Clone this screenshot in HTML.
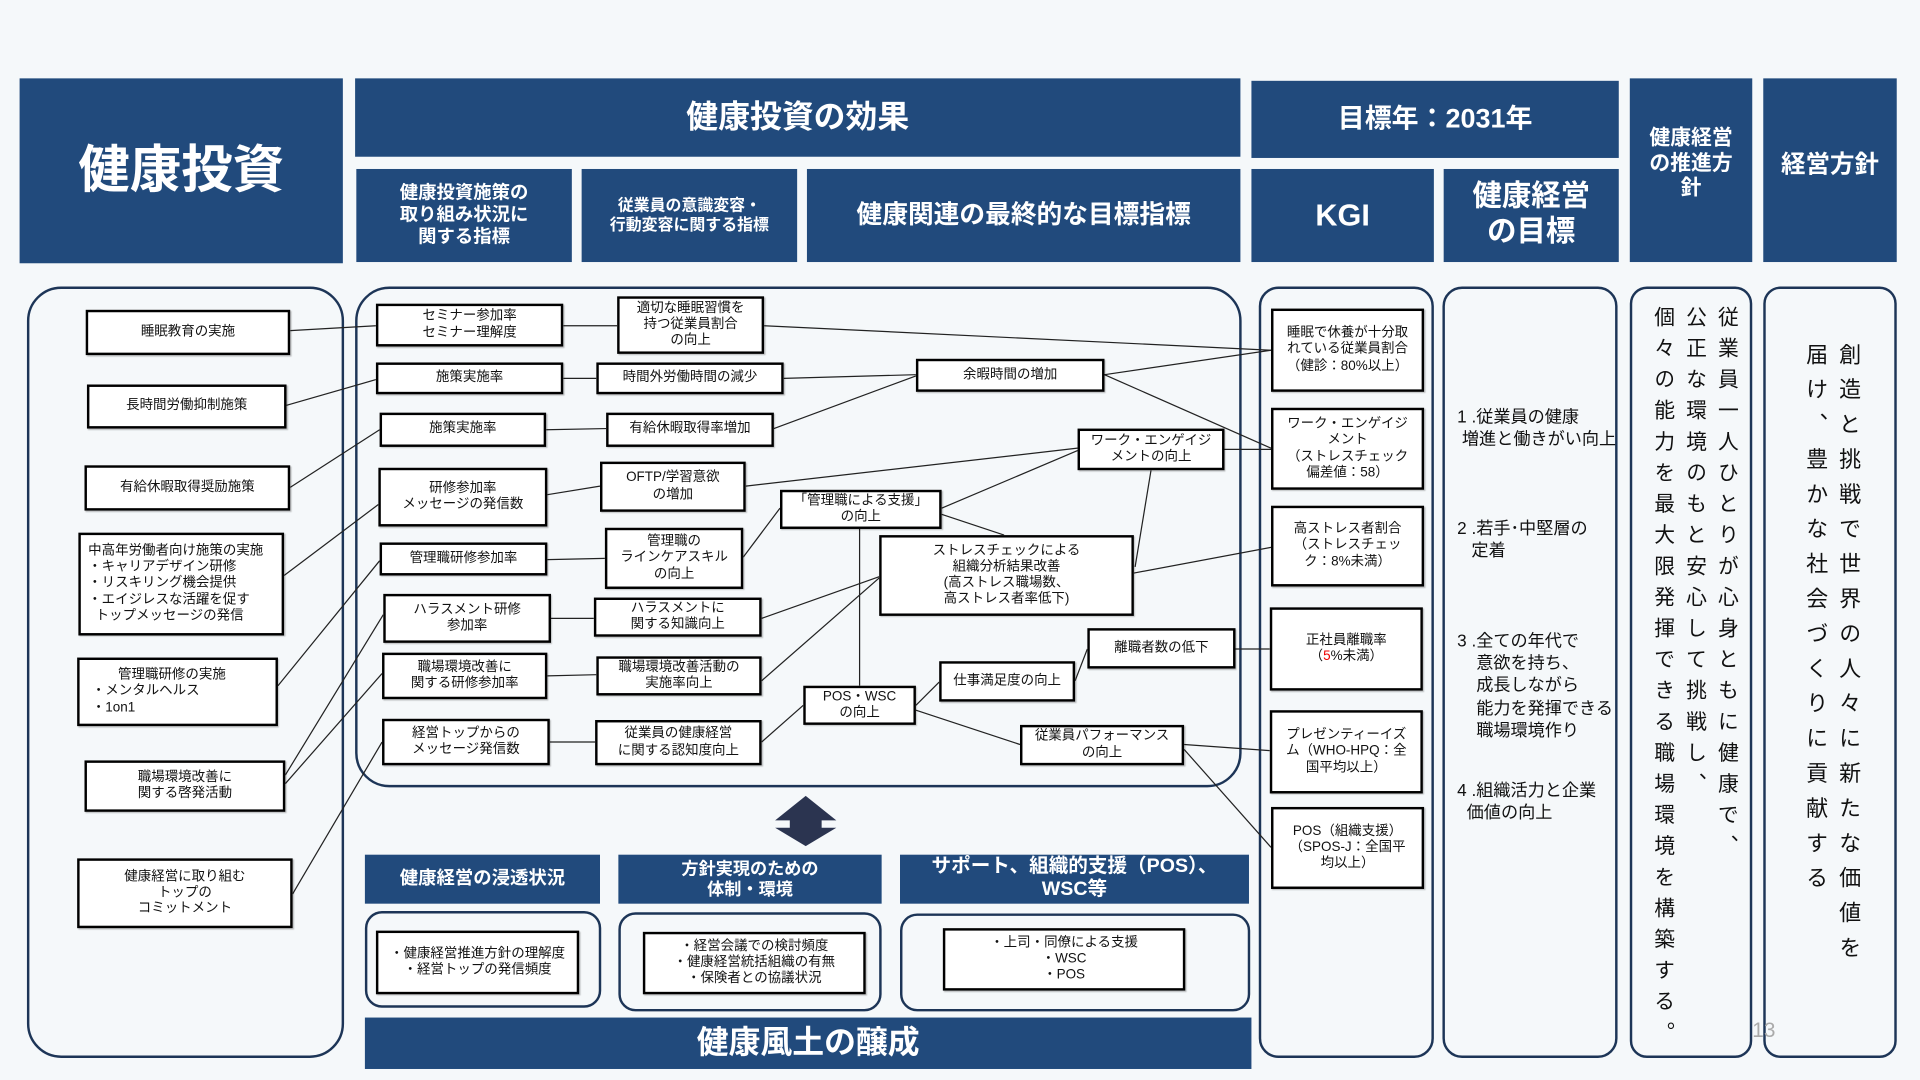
<!DOCTYPE html>
<html><head><meta charset="utf-8">
<style>
html,body{margin:0;padding:0;background:#f5f8fa;}
body{width:1920px;height:1080px;overflow:hidden;}
#s{position:relative;width:1568px;height:882px;transform:scale(1.22449);transform-origin:0 0;font-family:"Liberation Sans","Noto Sans CJK JP",sans-serif;}
.h{position:absolute;background:#214a7c;color:#fff;font-weight:bold;display:flex;align-items:center;justify-content:center;text-align:center;line-height:1.2;box-sizing:border-box;}
.p{position:absolute;border:2.5px solid #1d3557;border-radius:28px;box-sizing:border-box;}
.b{position:absolute;background:#fff;border:2px solid #000;box-sizing:border-box;display:flex;align-items:center;justify-content:center;text-align:center;font-size:11px;line-height:1.2;color:#111;box-shadow:1px 1px 1px rgba(0,0,0,.25);}
.l{justify-content:flex-start;text-align:left;padding-left:8px;}
.g{position:absolute;font-size:14px;line-height:1.3;color:#111;}
.v{position:absolute;writing-mode:vertical-rl;color:#111;}
svg{position:absolute;left:0;top:0;}
</style></head><body>
<div id="s">
<div class="h" style="left:16px;top:64px;width:264px;height:151px;font-size:42px;">健康投資</div>
<div class="h" style="left:290px;top:64px;width:723px;height:64px;font-size:26px;">健康投資の効果</div>
<div class="h" style="left:291px;top:138px;width:176px;height:76px;font-size:15px;">健康投資施策の<br>取り組み状況に<br>関する指標</div>
<div class="h" style="left:475px;top:138px;width:176px;height:76px;font-size:13px;">従業員の意識変容・<br>行動変容に関する指標</div>
<div class="h" style="left:659px;top:138px;width:354px;height:76px;font-size:21px;">健康関連の最終的な目標指標</div>
<div class="h" style="left:1022px;top:66px;width:300px;height:63px;font-size:22px;">目標年：2031年</div>
<div class="h" style="left:1022px;top:138px;width:149px;height:76px;font-size:25px;">KGI</div>
<div class="h" style="left:1179px;top:138px;width:143px;height:76px;font-size:24px;">健康経営<br>の目標</div>
<div class="h" style="left:1331px;top:64px;width:100px;height:150px;font-size:17px;padding-bottom:10px;">健康経営<br>の推進方<br>針</div>
<div class="h" style="left:1440px;top:64px;width:109px;height:150px;font-size:20px;padding-bottom:8px;">経営方針</div>

<div class="p" style="left:22px;top:234px;width:259px;height:630px;"></div>
<div class="p" style="left:290px;top:234px;width:724px;height:409px;"></div>
<div class="p" style="left:1028px;top:234px;width:143px;height:630px;border-radius:16px;"></div>
<div class="p" style="left:1178px;top:234px;width:143px;height:630px;border-radius:16px;"></div>
<div class="p" style="left:1331px;top:234px;width:100px;height:630px;border-radius:14px;"></div>
<div class="p" style="left:1440px;top:234px;width:109px;height:630px;border-radius:14px;"></div>

<svg width="1568" height="882" viewBox="0 0 1568 882">
<g stroke="#222" stroke-width="1" fill="none">
<line x1="237" y1="270" x2="307" y2="266"/>
<line x1="234" y1="331" x2="307" y2="310"/>
<line x1="237" y1="398" x2="310" y2="351"/>
<line x1="232" y1="470" x2="309" y2="412"/>
<line x1="227" y1="560" x2="310" y2="458"/>
<line x1="233" y1="633" x2="313" y2="502"/>
<line x1="233" y1="640" x2="312" y2="550"/>
<line x1="239" y1="730" x2="312" y2="606"/>
<line x1="460" y1="266" x2="504" y2="266"/>
<line x1="460" y1="309" x2="487" y2="309"/>
<line x1="446" y1="351" x2="495" y2="350"/>
<line x1="447" y1="404" x2="490" y2="397"/>
<line x1="447" y1="457" x2="494" y2="456"/>
<line x1="450" y1="505" x2="485" y2="505"/>
<line x1="447" y1="552" x2="487" y2="551"/>
<line x1="449" y1="606" x2="486" y2="606"/>
<line x1="624" y1="266" x2="1038" y2="286"/>
<line x1="640" y1="309" x2="748" y2="306"/>
<line x1="632" y1="350" x2="748" y2="307"/>
<line x1="609" y1="397" x2="880" y2="366"/>
<line x1="607" y1="455" x2="637" y2="415"/>
<line x1="622" y1="505" x2="718" y2="471"/>
<line x1="622" y1="556" x2="718" y2="472"/>
<line x1="622" y1="606" x2="656" y2="576"/>
<line x1="769" y1="415" x2="880" y2="368"/>
<line x1="769" y1="420" x2="820" y2="437"/>
<line x1="702" y1="432" x2="702" y2="560"/>
<line x1="902" y1="306" x2="1038" y2="286"/>
<line x1="902" y1="306" x2="1038" y2="366"/>
<line x1="1000" y1="367" x2="1038" y2="367"/>
<line x1="940" y1="384" x2="927" y2="463"/>
<line x1="926" y1="468" x2="1038" y2="447"/>
<line x1="1009" y1="530" x2="1037" y2="530"/>
<line x1="878" y1="556" x2="888" y2="530"/>
<line x1="748" y1="576" x2="767" y2="557"/>
<line x1="748" y1="580" x2="833" y2="608"/>
<line x1="967" y1="608" x2="1037" y2="613"/>
<line x1="967" y1="612" x2="1038" y2="692"/>
</g>
<polygon points="658,650 683,670 671,670 671,676 683,676 658,691 633,676 645,676 645,670 633,670" fill="#2b3450"/>
</svg>

<div class="b" style="left:70px;top:253px;width:167px;height:37px;">睡眠教育の実施</div>
<div class="b" style="left:71px;top:314px;width:163px;height:36px;">長時間労働抑制施策</div>
<div class="b" style="left:69px;top:380px;width:168px;height:37px;">有給休暇取得奨励施策</div>
<div class="b l" style="left:64px;top:435px;width:168px;height:84px;padding-left:6px;"><div>中高年労働者向け施策の実施<br>・キャリアデザイン研修<br>・リスキリング機会提供<br>・エイジレスな活躍を促す<br>&nbsp;&nbsp;トップメッセージの発信</div></div>
<div class="b l" style="left:63px;top:537px;width:164px;height:56px;padding-left:10px;"><div>&nbsp;&nbsp;&nbsp;&nbsp;&nbsp;&nbsp;&nbsp;管理職研修の実施<br>・メンタルヘルス<br>・1on1</div></div>
<div class="b" style="left:69px;top:621px;width:164px;height:42px;">職場環境改善に<br>関する啓発活動</div>
<div class="b" style="left:63px;top:701px;width:176px;height:57px;">健康経営に取り組む<br>トップの<br>コミットメント</div>

<div class="b" style="left:307px;top:248px;width:153px;height:35px;">セミナー参加率<br>セミナー理解度</div>
<div class="b" style="left:307px;top:296px;width:153px;height:26px;">施策実施率</div>
<div class="b" style="left:310px;top:337px;width:136px;height:28px;">施策実施率</div>
<div class="b" style="left:309px;top:382px;width:138px;height:48px;">研修参加率<br>メッセージの発信数</div>
<div class="b" style="left:310px;top:443px;width:137px;height:27px;">管理職研修参加率</div>
<div class="b" style="left:313px;top:485px;width:137px;height:40px;">ハラスメント研修<br>参加率</div>
<div class="b" style="left:312px;top:533px;width:135px;height:38px;">職場環境改善に<br>関する研修参加率</div>
<div class="b" style="left:312px;top:587px;width:137px;height:38px;">経営トップからの<br>メッセージ発信数</div>

<div class="b" style="left:504px;top:242px;width:120px;height:47px;">適切な睡眠習慣を<br>持つ従業員割合<br>の向上</div>
<div class="b" style="left:487px;top:296px;width:153px;height:26px;">時間外労働時間の減少</div>
<div class="b" style="left:495px;top:337px;width:137px;height:28px;">有給休暇取得率増加</div>
<div class="b" style="left:490px;top:377px;width:119px;height:41px;">OFTP/学習意欲<br>の増加</div>
<div class="b" style="left:494px;top:431px;width:113px;height:50px;">管理職の<br>ラインケアスキル<br>の向上</div>
<div class="b" style="left:485px;top:488px;width:137px;height:32px;">ハラスメントに<br>関する知識向上</div>
<div class="b" style="left:487px;top:536px;width:135px;height:32px;">職場環境改善活動の<br>実施率向上</div>
<div class="b" style="left:486px;top:588px;width:136px;height:37px;">従業員の健康経営<br>に関する認知度向上</div>

<div class="b" style="left:748px;top:293px;width:154px;height:27px;">余暇時間の増加</div>
<div class="b" style="left:880px;top:350px;width:120px;height:34px;">ワーク・エンゲイジ<br>メントの向上</div>
<div class="b" style="left:637px;top:400px;width:132px;height:32px;">「管理職による支援」<br>の向上</div>
<div class="b" style="left:718px;top:437px;width:208px;height:66px;">ストレスチェックによる<br>組織分析結果改善<br>(高ストレス職場数、<br>高ストレス者率低下)</div>
<div class="b" style="left:888px;top:513px;width:121px;height:33px;">離職者数の低下</div>
<div class="b" style="left:767px;top:540px;width:111px;height:33px;">仕事満足度の向上</div>
<div class="b" style="left:656px;top:560px;width:92px;height:32px;">POS・WSC<br>の向上</div>
<div class="b" style="left:833px;top:592px;width:134px;height:33px;">従業員パフォーマンス<br>の向上</div>

<div class="b" style="left:1038px;top:252px;width:125px;height:68px;">睡眠で休養が十分取<br>れている従業員割合<br>（健診：80%以上）</div>
<div class="b" style="left:1038px;top:333px;width:125px;height:67px;">ワーク・エンゲイジ<br>メント<br>（ストレスチェック<br>偏差値：58）</div>
<div class="b" style="left:1038px;top:413px;width:125px;height:66px;">高ストレス者割合<br>（ストレスチェッ<br>ク：8%未満）</div>
<div class="b" style="left:1037px;top:496px;width:125px;height:68px;"><div>正社員離職率<br>（<span style="color:#e00">5</span>%未満）</div></div>
<div class="b" style="left:1037px;top:580px;width:125px;height:68px;">プレゼンティーイズ<br>ム（WHO-HPQ：全<br>国平均以上）</div>
<div class="b" style="left:1038px;top:659px;width:125px;height:67px;">POS（組織支援）<br>（SPOS-J：全国平<br>均以上）</div>

<div class="g" style="left:1190px;top:331px;">1 .従業員の健康<br>&nbsp;増進と働きがい向上</div>
<div class="g" style="left:1190px;top:422px;">2 .若手･中堅層の<br>&nbsp;&nbsp;&nbsp;定着</div>
<div class="g" style="left:1190px;top:514px;">3 .全ての年代で<br>&nbsp;&nbsp;&nbsp;&nbsp;意欲を持ち、<br>&nbsp;&nbsp;&nbsp;&nbsp;成長しながら<br>&nbsp;&nbsp;&nbsp;&nbsp;能力を発揮できる<br>&nbsp;&nbsp;&nbsp;&nbsp;職場環境作り</div>
<div class="g" style="left:1190px;top:636px;">4 .組織活力と企業<br>&nbsp;&nbsp;価値の向上</div>

<div class="v" style="left:1397px;top:250px;font-size:17px;letter-spacing:8.4px;">従業員一人ひとりが心身ともに健康で、</div>
<div class="v" style="left:1371px;top:250px;font-size:17px;letter-spacing:8.4px;">公正な環境のもと安心して挑戦し、</div>
<div class="v" style="left:1345px;top:250px;font-size:17px;letter-spacing:8.4px;">個々の能力を最大限発揮できる職場環境を構築する。</div>
<div class="v" style="left:1497px;top:280px;font-size:18px;letter-spacing:10.5px;">創造と挑戦で世界の人々に新たな価値を</div>
<div class="v" style="left:1470px;top:280px;font-size:18px;letter-spacing:10.5px;">届け、豊かな社会づくりに貢献する</div>
<div style="position:absolute;left:1431px;top:832px;font-size:17px;color:#aaa;">13</div>

<div class="h" style="left:298px;top:698px;width:192px;height:40px;font-size:15px;">健康経営の浸透状況</div>
<div class="h" style="left:505px;top:698px;width:215px;height:40px;font-size:14px;">方針実現のための<br>体制・環境</div>
<div class="h" style="left:735px;top:698px;width:285px;height:40px;font-size:16px;align-items:flex-start;">サポート、組織的支援（POS）、<br>WSC等</div>
<div class="p" style="left:298px;top:744px;width:193px;height:79px;border-radius:14px;"></div>
<div class="p" style="left:505px;top:745px;width:215px;height:81px;border-radius:14px;"></div>
<div class="p" style="left:735px;top:746px;width:286px;height:80px;border-radius:14px;"></div>
<div class="b" style="left:307px;top:760px;width:166px;height:52px;">・健康経営推進方針の理解度<br>・経営トップの発信頻度</div>
<div class="b" style="left:525px;top:761px;width:182px;height:51px;">・経営会議での検討頻度<br>・健康経営統括組織の有無<br>・保険者との協議状況</div>
<div class="b" style="left:770px;top:758px;width:198px;height:51px;">・上司・同僚による支援<br>・WSC<br>・POS</div>
<div class="h" style="left:298px;top:831px;width:724px;height:42px;font-size:26px;">健康風土の醸成</div>
</div>
</body></html>
